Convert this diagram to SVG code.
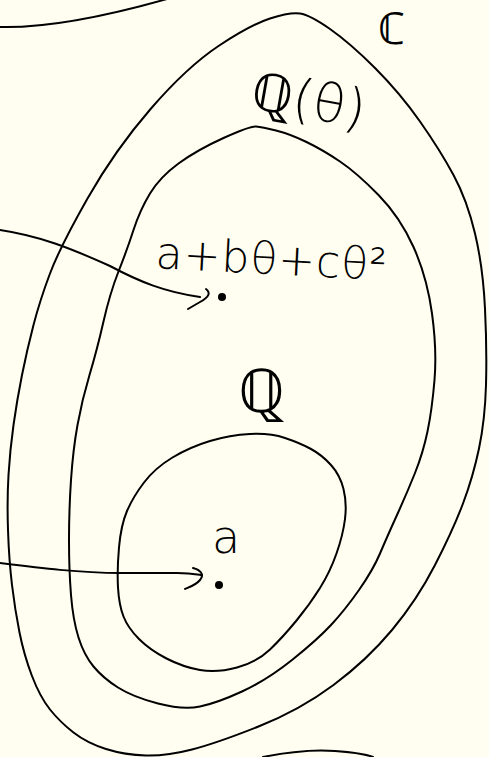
<svg xmlns="http://www.w3.org/2000/svg" width="489" height="757" viewBox="0 0 489 757">
<style>
.c{fill:none;stroke:#000;stroke-width:2;stroke-linecap:round;stroke-linejoin:round}
.t{font-family:"DejaVu Sans","Noto Sans",sans-serif;font-weight:300;fill:#000}
.d{fill:#000}
</style>
<rect width="489" height="757" fill="#FFFEF0"/>
<g id="C-field">
<path class="c" d="M0,27 C40,28 100,18 167,-1"/>
<path class="c" d="M263,757 C283,753 310,749 335,751 C350,752 365,754 373,757"/>
<text class="t" x="378" y="44" font-size="44">ℂ</text>
</g>
<g id="Q-theta">
<path class="c" d="M270,18.5 Q250,25 218.5,46 Q187,67 151,108.5 Q115,150 87.5,198.5 Q60,247 50,273.5 Q40,300 33.5,325 Q27,350 22,375 Q17,400 13.5,425 Q10,450 8.5,475 Q7,500 8,530 Q9,560 12,585 Q15,610 19.5,632.5 Q24,655 32,676 Q40,697 50,709.5 Q60,722 73.5,732.5 Q87,743 106,749 Q125,755 146,755.5 Q167,756 192,749.5 Q217,743 258.5,726.5 Q300,710 333.5,685 Q367,660 392,630 Q417,600 435,565 Q453,530 463,503.5 Q473,477 479,448.5 Q485,420 486,385 Q487,350 485,308.5 Q483,267 475,233.5 Q467,200 453.5,175 Q440,150 420,121.5 Q400,93 375,68 Q350,43 330,29 Q310,15 300,13.5 Q290,12 270,18.5 Z"/>
</g>
<g id="Q-theta-inner">
<path class="c" d="M223.5,138 Q197,150 178.5,163.5 Q160,177 150,193.5 Q140,210 133.5,230 Q127,250 118.5,271.5 Q110,293 103.5,321.5 Q97,350 89.5,375 Q82,400 77.5,425 Q73,450 71,480 Q69,510 69,540 Q69,570 71,595 Q73,620 78.5,637.5 Q84,655 93.5,666.5 Q103,678 118,687.5 Q133,697 158,703.5 Q183,710 200,706.5 Q217,703 242,691.5 Q267,680 292,660 Q317,640 331,625 Q345,610 359,590 Q373,570 380,553.5 Q387,537 397,515 Q407,493 415,473 Q423,453 427.5,431.5 Q432,410 434.5,380 Q437,350 432,313.5 Q427,277 413.5,247 Q400,217 378.5,195 Q357,173 340,161.5 Q323,150 306.5,142 Q290,134 276,130.5 Q262,127 256,126.5 Q250,126 223.5,138 Z"/>
<text class="t" x="249" y="108" font-size="53" transform="rotate(10 249 108)">ℚ(θ)</text>
</g>
<g id="Q">
<path class="c" d="M210,441 Q190,447 172.5,457.5 Q155,468 144,482.5 Q133,497 127,511 Q121,525 119,547.5 Q117,570 118,587.5 Q119,605 123.5,616.5 Q128,628 139,639 Q150,650 166.5,658.5 Q183,667 200,670 Q217,673 237,667.5 Q257,662 270,649.5 Q283,637 296.5,620.5 Q310,604 320,588 Q330,572 336.5,553.5 Q343,535 345,519 Q347,503 343.5,489 Q340,475 331,465 Q322,455 311,449 Q300,443 285,438 Q270,433 250,434 Q230,435 210,441 Z"/>
<text class="t" x="238" y="412" font-size="60">ℚ</text>
</g>
<g id="elem-abc">
<text class="t" x="155" y="268" font-size="44" letter-spacing="1" transform="rotate(3 155 268)">a+bθ+cθ²</text>
<circle class="d" cx="222" cy="297" r="4"/>
</g>
<g id="elem-a">
<text class="t" x="212" y="553" font-size="46">a</text>
<circle class="d" cx="219" cy="585" r="4"/>
</g>
<g id="connectors">
<path class="c" d="M0,230 C40,236 70,248 110,266 C140,282 165,292 200,297"/>
<path class="c" d="M206,289 C211,293 209,297 200,302 L188,309"/>
<path class="c" d="M0,563 C40,568 80,573 120,573 L177,573 C190,573 195,574 202,575"/>
<path class="c" d="M193,568 C200,570 205,574 200,580 C196,585 190,587 185,589"/>
</g>
</svg>
